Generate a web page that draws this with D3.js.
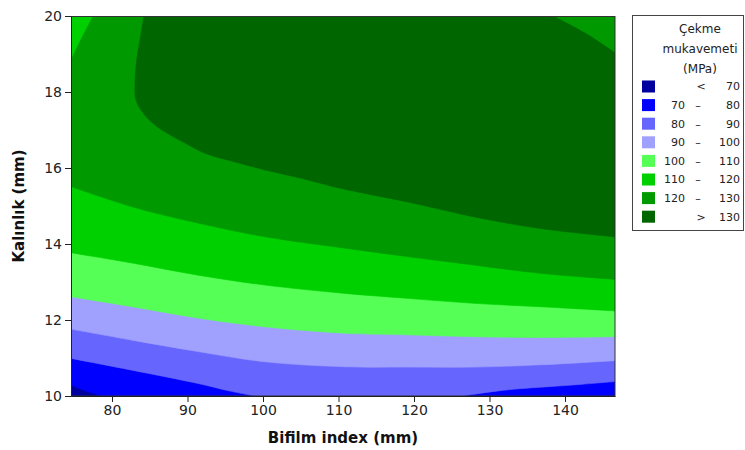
<!DOCTYPE html>
<html>
<head>
<meta charset="utf-8">
<script src="https://cdn.jsdelivr.net/npm/d3@7"></script>
<style>
  html, body { margin: 0; padding: 0; background: #fff; }
  svg { display: block; }
</style>
</head>
<body>
<svg id="chart" width="745" height="450"></svg>
<script>
// ---------- data ----------
const xDomain = [74.57, 146.62];
const yDomain = [10, 20];
const xTicks = [80, 90, 100, 110, 120, 130, 140];
const yTicks = [10, 12, 14, 16, 18, 20];
const xTitle = "Bifilm index (mm)";
const yTitle = "Kalınlık (mm)";
const legendTitle = ["Çekme", "mukavemeti", "(MPa)"];
const legendLow = ["", "70", "80", "90", "100", "110", "120", ""];
const legendSep = ["<", "–", "–", "–", "–", "–", "–", ">"];
const legendHigh = ["70", "80", "90", "100", "110", "120", "130", "130"];
const bandColors = ["#0000a0", "#0000ff", "#6666ff", "#a0a0ff", "#55ff55", "#00d000", "#009900", "#006600"];

// contour lines (Bifilm index, Kalınlık)
const c70 = [[74.57, 10.29], [76.56, 10.13], [78.64, 10.0]];
const c80a = [[74.57, 10.99], [82.65, 10.68], [91.39, 10.33], [95.63, 10.13], [98.94, 10.0]];
const c80b = [[126.32, 10.0], [132.28, 10.16], [141.06, 10.29], [146.62, 10.38]];
const c90 = [[74.57, 11.76], [82.65, 11.47], [91.39, 11.17], [100.26, 10.90], [110.86, 10.77], [119.07, 10.76], [127.81, 10.76], [136.69, 10.82], [146.62, 10.93]];
const c100 = [[74.57, 12.61], [82.65, 12.35], [91.39, 12.05], [100.26, 11.82], [110.86, 11.65], [119.07, 11.61], [127.81, 11.56], [136.69, 11.54], [146.62, 11.56]];
const c110 = [[74.57, 13.77], [82.65, 13.50], [91.39, 13.18], [100.26, 12.92], [110.86, 12.70], [119.07, 12.57], [127.81, 12.44], [136.69, 12.35], [146.62, 12.24]];
const c120a = [[74.57, 15.51], [82.65, 14.98], [91.39, 14.55], [100.26, 14.19], [110.86, 13.89], [119.07, 13.67], [127.81, 13.45], [136.69, 13.23], [146.62, 13.07]];
const c120b = [[77.52, 20.0], [76.0, 19.42], [74.57, 18.84]];
const c130a = [[84.24, 20.0], [83.71, 19.37], [83.27, 18.84], [83.05, 18.24], [83.18, 17.79], [84.11, 17.45], [85.7, 17.13], [87.28, 16.92], [89.67, 16.66], [92.32, 16.39], [96.29, 16.16], [100.26, 15.95], [104.9, 15.74], [110.2, 15.47], [119.07, 15.11], [127.81, 14.72], [136.69, 14.41], [146.62, 14.19]];
const c130b = [[146.62, 19.03], [142.65, 19.55], [138.41, 20.0]];

// ---------- layout ----------
const svg = d3.select("#chart");
const W = 745, H = 450;
const plot = { left: 71, right: 615, top: 16, bottom: 396 };

svg.append("rect").attr("width", W).attr("height", H).attr("fill", "#fff");

const x = d3.scaleLinear().domain(xDomain).range([plot.left, plot.right]);
const y = d3.scaleLinear().domain(yDomain).range([plot.bottom, plot.top]);

const TR = [xDomain[1], yDomain[1]], TL = [xDomain[0], yDomain[1]], BR = [xDomain[1], yDomain[0]];

// super-level regions (value above each level): contour pieces (curved) and plot corners (straight)
const regions = [
  [{ c: c70 }, { k: [BR, TR, TL] }],
  [{ c: c80a }, { c: c80b }, { k: [TR, TL] }],
  [{ c: c90 }, { k: [TR, TL] }],
  [{ c: c100 }, { k: [TR, TL] }],
  [{ c: c110 }, { k: [TR, TL] }],
  [{ c: c120a }, { k: [TR] }, { c: c120b }],
  [{ c: c130a }, { c: c130b }]
];

const curved = d3.line().x(d => x(d[0])).y(d => y(d[1])).curve(d3.curveCatmullRom.alpha(0.5));

function regionPath(segs) {
  let p = "";
  segs.forEach((s, i) => {
    if (s.c) {
      let d = curved(s.c);
      d = d.replace(/Z$/, "");
      p += (i > 0 ? "L" + d.slice(1) : d);
    } else {
      p += s.k.map((pt, j) => (i === 0 && j === 0 ? "M" : "L") + x(pt[0]) + "," + y(pt[1])).join("");
    }
  });
  return p + "Z";
}

svg.append("defs").append("clipPath").attr("id", "clip")
  .append("rect").attr("x", plot.left).attr("y", plot.top)
  .attr("width", plot.right - plot.left).attr("height", plot.bottom - plot.top);

const g = svg.append("g").attr("clip-path", "url(#clip)");
g.append("rect").attr("x", plot.left).attr("y", plot.top)
  .attr("width", plot.right - plot.left).attr("height", plot.bottom - plot.top)
  .attr("fill", bandColors[0]);

regions.forEach((segs, i) => {
  g.append("path").attr("d", regionPath(segs))
    .attr("fill", bandColors[i + 1])
    .attr("stroke", bandColors[i + 1]).attr("stroke-width", 0.6);
});

// frame
svg.append("rect").attr("x", plot.left + 0.5).attr("y", plot.top + 0.5)
  .attr("width", plot.right - plot.left - 0.5).attr("height", plot.bottom - plot.top - 0.5)
  .attr("fill", "none").attr("stroke", "#333").attr("stroke-width", 1);

// axes
const xAxis = svg.append("g").attr("transform", `translate(0,${plot.bottom})`)
  .call(d3.axisBottom(x).tickValues(xTicks).tickSize(6).tickSizeOuter(0).tickPadding(3));
const yAxis = svg.append("g").attr("transform", `translate(${plot.left},0)`)
  .call(d3.axisLeft(y).tickValues(yTicks).tickSize(6).tickSizeOuter(0).tickPadding(3));
[xAxis, yAxis].forEach(a => {
  a.selectAll("path.domain").attr("stroke", "#222");
  a.selectAll(".tick line").attr("stroke", "#222");
  a.selectAll(".tick text").attr("font-family", "DejaVu Sans, sans-serif")
    .attr("font-size", 14).attr("fill", "#222");
});

// titles
svg.append("text").attr("x", (plot.left + plot.right) / 2).attr("y", 443)
  .attr("text-anchor", "middle").attr("font-family", "DejaVu Sans, sans-serif")
  .attr("font-weight", "bold").attr("font-size", 15).attr("fill", "#111").text(xTitle);
svg.append("text").attr("transform", `translate(24,${(plot.top + plot.bottom) / 2}) rotate(-90)`)
  .attr("text-anchor", "middle").attr("font-family", "DejaVu Sans, sans-serif")
  .attr("font-weight", "bold").attr("font-size", 15).attr("fill", "#111").text(yTitle);

// legend
const lg = svg.append("g");
lg.append("rect").attr("x", 632.5).attr("y", 15.5).attr("width", 111).attr("height", 215)
  .attr("fill", "#fff").attr("stroke", "#444").attr("stroke-width", 1);
legendTitle.forEach((t, i) => {
  lg.append("text").attr("x", 700).attr("y", 33 + i * 20).attr("text-anchor", "middle")
    .attr("font-family", "DejaVu Sans, sans-serif").attr("font-size", 12).attr("fill", "#222").text(t);
});
bandColors.forEach((c, i) => {
  const cy = 86.5 + i * 18.6;
  lg.append("rect").attr("x", 642).attr("y", cy - 6).attr("width", 13).attr("height", 12).attr("fill", c);
  const tx = (xx, anchor, s) => lg.append("text").attr("x", xx).attr("y", cy).attr("dy", "0.36em")
    .attr("text-anchor", anchor).attr("font-family", "DejaVu Sans, sans-serif")
    .attr("font-size", 11).attr("fill", "#222").text(s);
  if (legendLow[i]) tx(685, "end", legendLow[i]);
  tx(legendSep[i] === "–" ? 698 : 701, "middle", legendSep[i]);
  tx(740, "end", legendHigh[i]);
});
</script>
</body>
</html>
